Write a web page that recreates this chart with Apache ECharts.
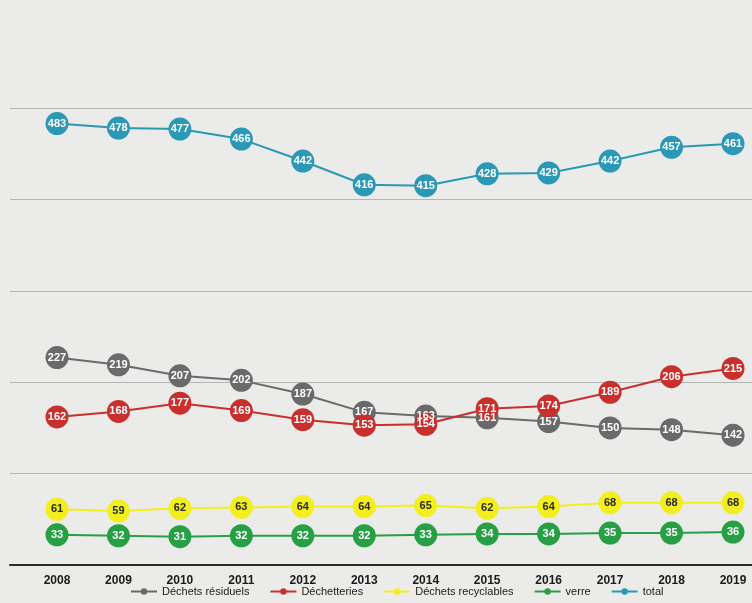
<!DOCTYPE html>
<html>
<head>
<meta charset="utf-8">
<script src="https://cdn.jsdelivr.net/npm/echarts@6/dist/echarts.min.js"></script>
<style>
html,body{margin:0;padding:0;background:#ebebe9;}
#c{width:752px;height:603px;}
</style>
</head>
<body>
<div id="c"></div>
<script>
const years = ['2008','2009','2010','2011','2012','2013','2014','2015','2016','2017','2018','2019'];
const residuels = [227,219,207,202,187,167,163,161,157,150,148,142];
const decheteries = [162,168,177,169,159,153,154,171,174,189,206,215];
const recyclables = [61,59,62,63,64,64,65,62,64,68,68,68];
const verre = [33,32,31,32,32,32,33,34,34,35,35,36];
const total = [483,478,477,466,442,416,415,428,429,442,457,461];

const chart = echarts.init(document.getElementById('c'));
function mk(name, data, color, labelColor){
  return {
    name: name, type: 'line', data: data, xAxisIndex: 1, yAxisIndex: 1,
    symbol: 'circle', symbolSize: 23,
    lineStyle: {color: color, width: 2},
    itemStyle: {color: color},
    label: {show: true, position: 'inside', color: labelColor, fontSize: 11, fontWeight: 'bold', fontFamily: 'Liberation Sans'},
    emphasis: {disabled: true}
  };
}
chart.setOption({
  backgroundColor: '#ebebe9',
  animation: false,
  grid: [
    {left: 10, right: 0, top: 108, bottom: 38},
    {left: 57, right: 19, top: 108, bottom: 38}
  ],
  xAxis: [
    {type: 'value', gridIndex: 0, min: 0, max: 1, axisLine: {show: true, lineStyle: {color: '#2b2b2b', width: 2}}, axisTick: {show: false}, axisLabel: {show: false}, splitLine: {show: false}},
    {type: 'category', gridIndex: 1, data: years, boundaryGap: false, axisLine: {show: false}, axisTick: {show: false},
     axisLabel: {color: '#1a1a1a', fontWeight: 'bold', fontSize: 12, margin: 10, fontFamily: 'Liberation Sans'}}
  ],
  yAxis: [
    {type: 'value', gridIndex: 0, min: 0, max: 500, interval: 100, axisLine: {show: false}, axisTick: {show: false}, axisLabel: {show: false},
     splitLine: {show: true, lineStyle: {color: '#b5b5b5', width: 1}}},
    {type: 'value', gridIndex: 1, min: 0, max: 500, interval: 100, show: false, splitLine: {show: false}}
  ],
  legend: {
    bottom: 1, left: 125, itemWidth: 26, itemHeight: 8, itemGap: 20,
    textStyle: {fontSize: 11, color: '#1a1a1a', fontFamily: 'Liberation Sans'},
    data: ['Déchets résiduels','Déchetteries','Déchets recyclables','verre','total']
  },
  series: [
    mk('Déchets résiduels', residuels, '#6a6a6a', '#ffffff'),
    mk('Déchetteries', decheteries, '#c8302e', '#ffffff'),
    mk('Déchets recyclables', recyclables, '#f3ee1e', '#2a2a2a'),
    mk('verre', verre, '#27a045', '#ffffff'),
    mk('total', total, '#2b98b6', '#ffffff')
  ]
});
</script>
</body>
</html>
